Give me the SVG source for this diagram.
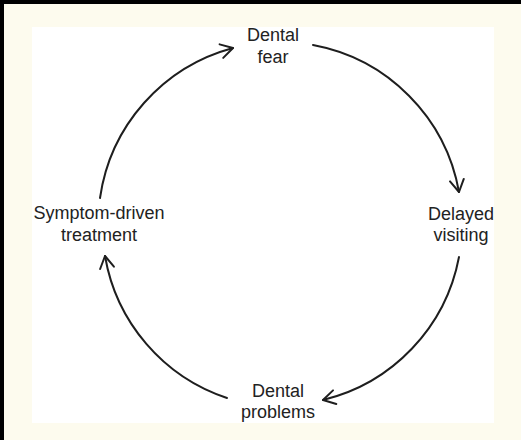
<svg xmlns="http://www.w3.org/2000/svg" width="521" height="440" viewBox="0 0 521 440">
<style>
.lbl{font-family:"Liberation Sans",Arial,sans-serif;font-size:18px;fill:#222;text-anchor:middle}
.arc{fill:none;stroke:#1e1e1e;stroke-width:2;stroke-linecap:round}
</style>
<defs>
<marker id="ah" viewBox="-14 -9 16 18" markerWidth="16" markerHeight="18" refX="0" refY="0" orient="auto" markerUnits="userSpaceOnUse">
<path d="M-12,-7 L0,0 L-12,7" fill="none" stroke="#1e1e1e" stroke-width="2" stroke-linecap="round" stroke-linejoin="round"/>
</marker>
</defs>
<rect x="0" y="0" width="521" height="440" fill="#fdfbee"/>
<rect x="0" y="0" width="521" height="4" fill="#000"/>
<rect x="0" y="0" width="4" height="440" fill="#000"/>
<rect x="32" y="27" width="462" height="396" fill="#ffffff"/>
<g id="connectors">
<path class="arc" d="M100,198 A182,182 0 0 1 233,48" marker-end="url(#ah)"/>
<path class="arc" d="M313,45 A182,182 0 0 1 459,192" marker-end="url(#ah)"/>
<path class="arc" d="M459,257 A182,182 0 0 1 323,400" marker-end="url(#ah)"/>
<path class="arc" d="M227,398 A182,182 0 0 1 105,256" marker-end="url(#ah)"/>
</g>
<g id="dental-fear"><text class="lbl" x="273" y="41">Dental</text><text class="lbl" x="273" y="63">fear</text></g>
<g id="delayed-visiting"><text class="lbl" x="461" y="220">Delayed</text><text class="lbl" x="461" y="241">visiting</text></g>
<g id="dental-problems"><text class="lbl" x="278" y="397">Dental</text><text class="lbl" x="278" y="418">problems</text></g>
<g id="symptom-driven-treatment"><text class="lbl" x="99" y="219">Symptom-driven</text><text class="lbl" x="99" y="241">treatment</text></g>
</svg>
